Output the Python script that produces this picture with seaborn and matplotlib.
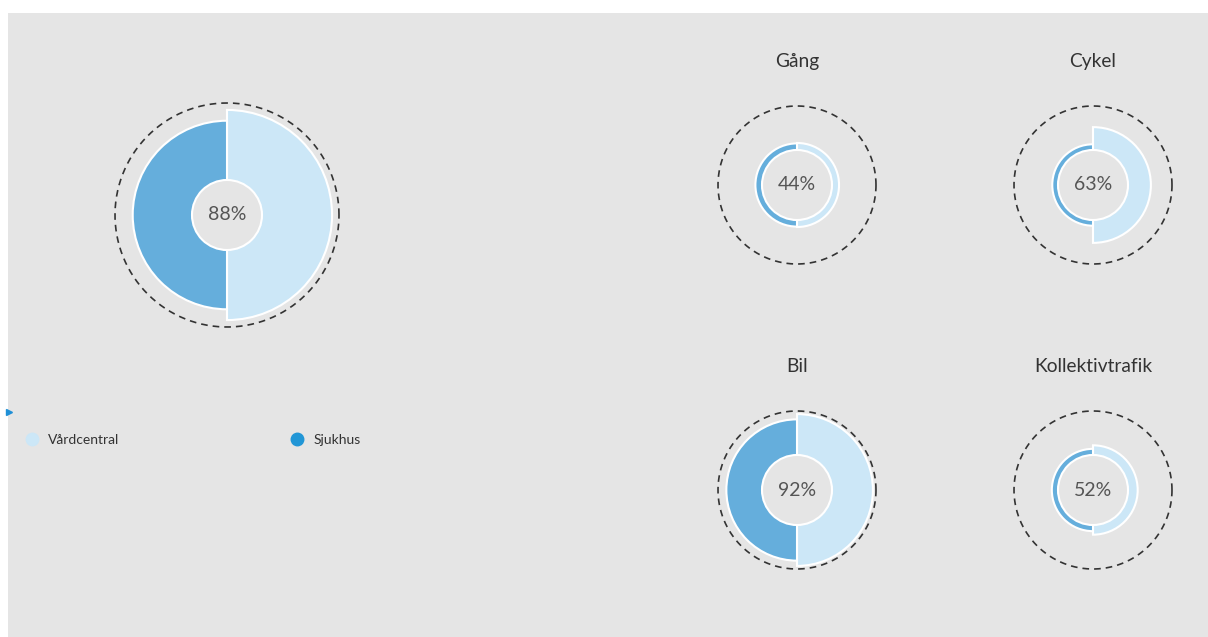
import numpy as np
import matplotlib
matplotlib.use("Agg")
import matplotlib.pyplot as plt
from matplotlib.patches import Rectangle
from matplotlib.lines import Line2D
import seaborn as sns

# ---- data ----
charts = ["Total", "Gång", "Cykel", "Bil", "Kollektivtrafik"]
titles = ["", "Gång", "Cykel", "Bil", "Kollektivtrafik"]
vardcentral = [91, 16, 52, 93, 22]   # right half (light)
sjukhus = [77, 15, 13, 81, 14]       # left half (dark)
center_labels = ["88%", "44%", "63%", "92%", "52%"]
series = ["Vårdcentral", "Sjukhus"]

sns.set_theme(style="white")
plt.rcParams['font.family'] = ['Lato', 'DejaVu Sans']

W, H = 1208, 637
fig = plt.figure(figsize=(W / 100, H / 100), dpi=100)
fig.patch.set_facecolor('white')
fig.add_artist(Rectangle((8 / W, 0), 1, 1 - 13 / H, transform=fig.transFigure,
                         facecolor='#e5e5e5', edgecolor='none', zorder=0))

light = '#cce7f7'
dark = '#65aedc'
palette = sns.color_palette([light, dark])

# (center x px, center y px, hole radius px, dashed ring radius px)
layout = [(227, 215, 35, 112), (797, 185, 35, 79), (1093, 185, 35, 79),
          (797, 490, 35, 79), (1093, 490, 35, 79)]
title_pos = [None, (797, 61), (1093, 61), (797, 366), (1093, 366)]


def draw(i):
    cx, cy, hole_px, dash_px = layout[i]
    R_px = dash_px + 8
    scale = (dash_px - hole_px) / 100.0
    hole = hole_px / scale
    R = R_px / scale
    ax = fig.add_axes([(cx - R_px) / W, 1 - (cy + R_px) / H, 2 * R_px / W, 2 * R_px / H],
                      projection='polar')
    ax.set_facecolor('none')
    ax.set_ylim(0, R)
    ax.bar([0, np.pi], [vardcentral[i], sjukhus[i]], width=np.pi, bottom=hole,
           color=palette, edgecolor='white', linewidth=1.5, zorder=2)
    th = np.linspace(0, 2 * np.pi, 500)
    ax.plot(th, np.full_like(th, hole + 100), ls=(0, (4, 3)), color='#333333', lw=1.2, zorder=1)
    ax.text(0.5, 0.5, center_labels[i], transform=ax.transAxes, ha='center', va='center',
            fontsize=14, color='#555555')
    ax.set_axis_off()
    if title_pos[i] is not None:
        tx, ty = title_pos[i]
        fig.text(tx / W, 1 - ty / H, titles[i], ha='center', va='center', fontsize=13.8,
                 color='#333333')


for i in range(len(charts)):
    draw(i)

handles = [Line2D([], [], marker='o', ls='', color=light, markersize=9),
           Line2D([], [], marker='o', ls='', color='#2196d6', markersize=9)]
fig.legend(handles=handles, labels=series, loc='center left',
           bbox_to_anchor=(13 / W, 1 - 440 / H), ncol=2, frameon=False, fontsize=10,
           handlelength=1.0, handletextpad=0.65, columnspacing=12.3, labelcolor='#333333')
fig.add_artist(Line2D([9 / W], [1 - 412 / H], marker='>', ms=5, color='#1f8fd6', ls='',
                      transform=fig.transFigure))

fig.savefig("out.png", dpi=100)
